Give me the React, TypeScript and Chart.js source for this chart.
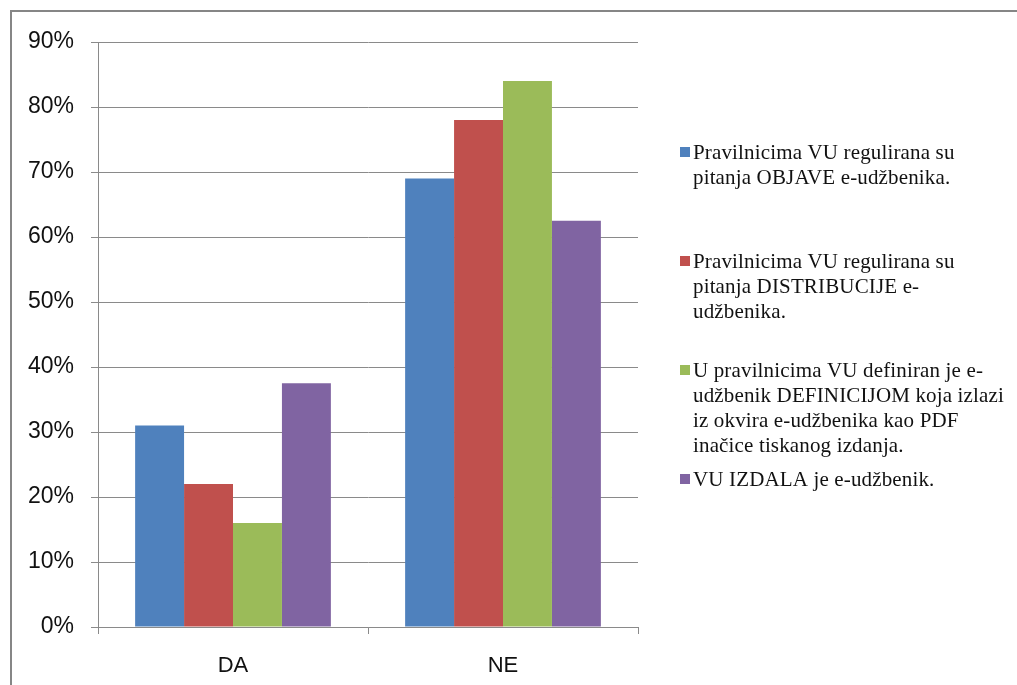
import React, { useEffect, useRef } from "react";
import { Chart, registerables } from "chart.js";

Chart.register(...registerables);

const categories = ["DA", "NE"];
const seriesLabels = [
  "Pravilnicima VU regulirana su pitanja OBJAVE e-udžbenika.",
  "Pravilnicima VU regulirana su pitanja DISTRIBUCIJE e-udžbenika.",
  "U pravilnicima VU definiran je e-udžbenik DEFINICIJOM koja izlazi iz okvira e-udžbenika kao PDF inačice tiskanog izdanja.",
  "VU IZDALA je e-udžbenik.",
];
const legendLines = [
  ["Pravilnicima VU regulirana su", "pitanja OBJAVE e-udžbenika."],
  ["Pravilnicima VU regulirana su", "pitanja DISTRIBUCIJE e-", "udžbenika."],
  ["U pravilnicima VU definiran je e-", "udžbenik DEFINICIJOM koja izlazi", "iz okvira e-udžbenika kao PDF", "inačice tiskanog izdanja."],
  ["VU IZDALA je e-udžbenik."],
];
const objave = [31, 69];
const distribucije = [22, 78];
const definicija = [16, 84];
const izdala = [37.5, 62.5];
const colors = ["#4F81BD", "#C0504D", "#9BBB59", "#8064A2"];
const yMax = 90;
const yStep = 10;

const legendPlugin = {
  id: "sideLegend",
  afterDraw(chart: any) {
    const ctx = chart.ctx;
    ctx.save();
    const x0 = 680;
    const y0 = 152;
    const step = 109;
    const lh = 25;
    ctx.font = '21px "Liberation Serif", "Times New Roman", serif';
    try {
      (ctx as any).letterSpacing = "0.15px";
    } catch (e) {}
    ctx.textBaseline = "middle";
    ctx.textAlign = "left";
    legendLines.forEach((lines, i) => {
      const y = y0 + i * step;
      ctx.fillStyle = colors[i];
      ctx.fillRect(x0, y - 5, 10, 10);
      ctx.fillStyle = "#111";
      lines.forEach((line, j) => {
        ctx.fillText(line, x0 + 13, y + 1 + j * lh);
      });
    });
    ctx.restore();
  },
};

export default function App() {
  const ref = useRef<HTMLCanvasElement>(null);
  useEffect(() => {
    if (!ref.current) return;
    const series = [objave, distribucije, definicija, izdala];
    const chart = new Chart(ref.current, {
      type: "bar",
      data: {
        labels: categories,
        datasets: series.map((d, i) => ({
          label: seriesLabels[i],
          data: d,
          backgroundColor: colors[i],
          borderWidth: 0,
          categoryPercentage: 0.725,
          barPercentage: 1,
        })),
      },
      options: {
        animation: false,
        responsive: false,
        maintainAspectRatio: false,
        layout: { padding: { left: 0, right: 379, top: 42, bottom: 0 } },
        plugins: { legend: { display: false }, tooltip: { enabled: false } },
        scales: {
          x: {
            offset: true,
            grid: {
              offset: true,
              drawOnChartArea: false,
              drawTicks: true,
              tickLength: 7,
              color: "#8a8a8a",
            },
            border: { color: "#8a8a8a", width: 1 },
            ticks: {
              color: "#111",
              padding: 19,
              font: { family: '"Liberation Sans", Arial, sans-serif', size: 22 },
            },
            afterFit(scale: any) {
              scale.height = 58;
            },
          },
          y: {
            min: 0,
            max: yMax,
            grid: { color: "#8a8a8a", tickLength: 7 },
            border: { color: "#8a8a8a", width: 1 },
            ticks: {
              stepSize: yStep,
              color: "#111",
              padding: 17,
              font: { family: '"Liberation Sans", Arial, sans-serif', size: 23 },
              callback: (v: any) => v + "%",
            },
            afterFit(scale: any) {
              scale.width = 98;
            },
          },
        },
      },
      plugins: [legendPlugin],
    });
    return () => chart.destroy();
  }, []);
  return (
    <div
      style={{
        position: "absolute",
        left: 0,
        top: 0,
        width: 1017,
        height: 685,
        background: "#fff",
        overflow: "hidden",
      }}
    >
      <div
        style={{
          position: "absolute",
          left: 10,
          top: 10,
          width: 1007,
          height: 675,
          borderTop: "2px solid #868686",
          borderLeft: "2px solid #868686",
          boxSizing: "border-box",
        }}
      />
      <canvas
        ref={ref}
        width={1017}
        height={685}
        style={{ position: "absolute", left: 0, top: 0, width: 1017, height: 685 }}
      />
    </div>
  );
}
